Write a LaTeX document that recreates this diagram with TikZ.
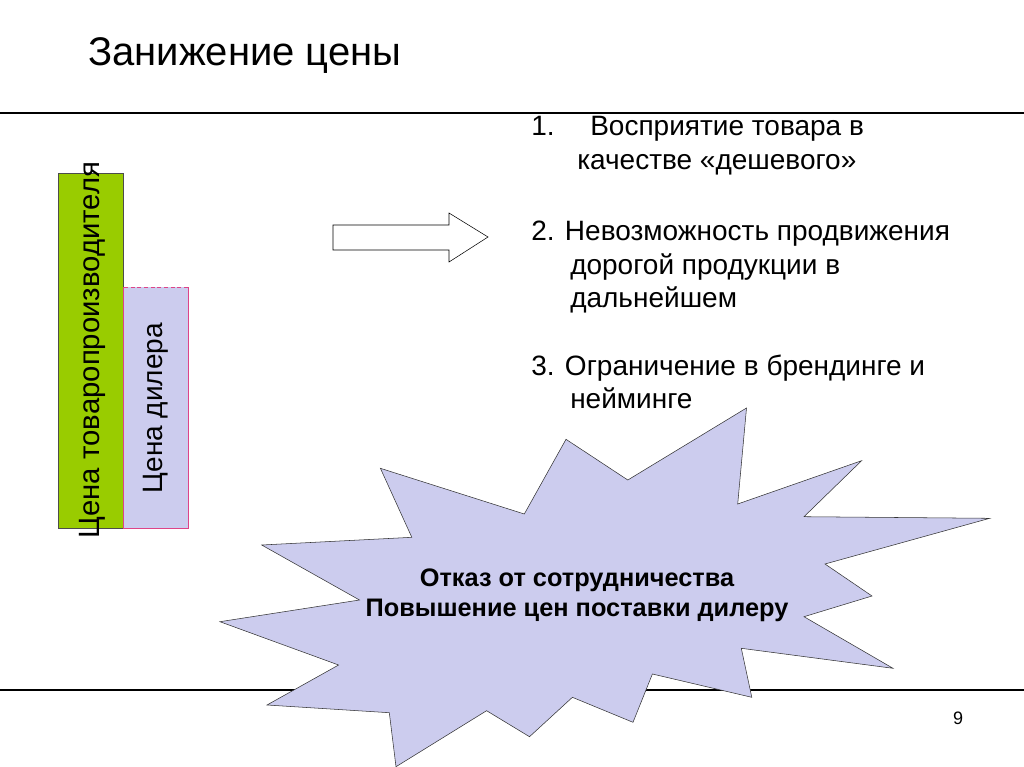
\documentclass[tikz,border=0pt]{standalone}
\usepackage{fontspec}
\setmainfont{Liberation Sans}
\usetikzlibrary{positioning}

\definecolor{zelen}{RGB}{153,204,0}
\definecolor{lavanda}{RGB}{204,204,238}
\definecolor{rozov}{RGB}{221,68,136}

\begin{document}
\begin{tikzpicture}[x=0.75pt,y=-0.75pt,inner sep=0pt,
  spisok/.style={anchor=base west,font=\fontsize{21}{25}\selectfont},
  stolb/.style={rotate=90,font=\fontsize{21}{25}\selectfont}]
\useasboundingbox (0,0) rectangle (1024,767);

\node[anchor=base west,font=\fontsize{30}{36}\selectfont] (zag) at (88,65) {Занижение цены};
\draw[line width=1.5pt] (0,113) -- (1024,113);
\draw[line width=1.5pt] (0,690) -- (1024,690);

% столбики цен
\draw[fill=zelen,draw=black!70] (58,173) rectangle (123,528);
\fill[lavanda] (123,287) rectangle (188,528);
\draw[rozov] (123,287) -- (123,528) -- (188,528) -- (188,287);
\draw[rozov,densely dashed] (188,287) -- (123,287);
\node[stolb,font=\fontsize{22}{26}\selectfont] (proizv) at (92,350) {Цена товаропроизводителя};
\node[stolb] (diler) at (156,408) {Цена дилера};

% стрелка
\coordinate (s1) at (333,225); %хвост верх
\coordinate (s2) at (449,225);
\coordinate (s3) at (449,213);
\coordinate (s4) at (488,237); %острие
\coordinate (s5) at (449,262);
\coordinate (s6) at (449,250);
\coordinate (s7) at (333,250); %хвост низ
\draw[fill=white] (s1) -- (s2) -- (s3) -- (s4) -- (s5) -- (s6) -- (s7) -- cycle;

% список
\node[spisok] (p1n) at (531,135) {1.};
\node[spisok] (p1a) at (590,135) {Восприятие товара в};
\node[spisok] (p1b) at (577,169) {качестве «дешевого»};
\node[spisok] (p2a) at (531,240) {2. Невозможность продвижения};
\node[spisok] (p2b) at (570,274) {дорогой продукции в};
\node[spisok] (p2c) at (570,307) {дальнейшем};
\node[spisok] (p3a) at (531,375) {3. Ограничение в брендинге и};
\node[spisok] (p3b) at (570,408) {нейминге};

% взрыв
\draw[fill=lavanda,draw=black!80] (746.5,408) -- (737.7,504) -- (861.6,460.7) -- (804,516.7)
  -- (989.7,518.3) -- (825,564) -- (872,596) -- (804,616.7) -- (893,668.3)
  -- (741.3,648.3) -- (751.8,697.3) -- (652.4,674) -- (633,722.3) -- (572.4,697.3)
  -- (529.5,736.7) -- (486.6,710.7) -- (396,766.7) -- (389.3,712.7) -- (267,705)
  -- (338.6,665) -- (219.9,621.7) -- (359.5,600) -- (261.7,545) -- (411.8,537.3)
  -- (380.4,468.3) -- (524.3,514) -- (566,439.3) -- (627.8,480) -- cycle;
\node[align=center,font=\bfseries\fontsize{19}{22.5}\selectfont] (otkaz) at (577,595)
  {Отказ от сотрудничества\\Повышение цен поставки дилеру};

\node[font=\fontsize{13.5}{16}\selectfont] (nomer) at (958,718) {9};
\end{tikzpicture}
\end{document}
